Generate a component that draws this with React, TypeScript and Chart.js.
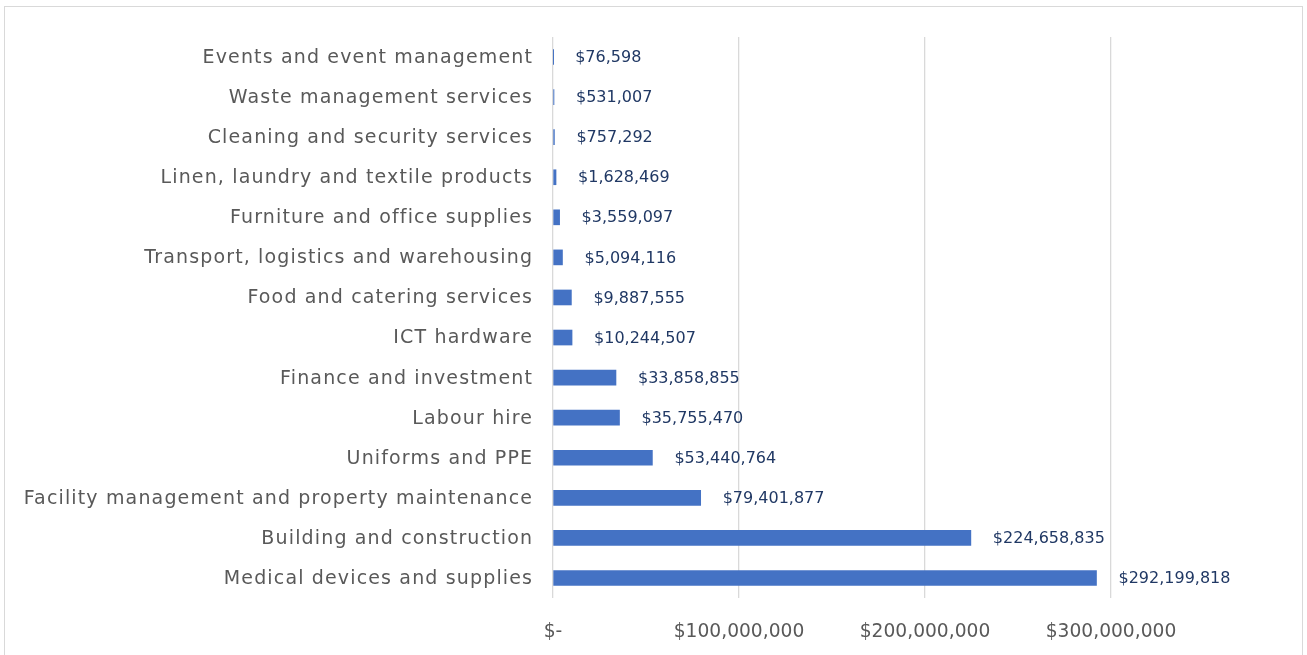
import React, { useEffect, useRef } from "react";
import { Chart, registerables } from "chart.js";
Chart.register(...registerables);

const categories = [
  "Events and event management",
  "Waste management services",
  "Cleaning and security services",
  "Linen, laundry and textile products",
  "Furniture and office supplies",
  "Transport, logistics and warehousing",
  "Food and catering services",
  "ICT hardware",
  "Finance and investment",
  "Labour hire",
  "Uniforms and PPE",
  "Facility management and property maintenance",
  "Building and construction",
  "Medical devices and supplies",
];
const values = [
  76598, 531007, 757292, 1628469, 3559097, 5094116, 9887555, 10244507,
  33858855, 35755470, 53440764, 79401877, 224658835, 292199818,
];
const xTicks = [0, 100000000, 200000000, 300000000];
const xTickLabels = ["$-", "$100,000,000", "$200,000,000", "$300,000,000"];

const FONT = "'DejaVu Sans', sans-serif";

const fmt = (v: number) => "$" + v.toLocaleString("en-US");

const dataLabelPlugin = {
  id: "dataLabels",
  afterDatasetsDraw(chart: any) {
    const ctx = chart.ctx;
    const meta = chart.getDatasetMeta(0);
    ctx.save();
    ctx.font = `16px ${FONT}`;
    ctx.fillStyle = "#203864";
    ctx.textAlign = "left";
    ctx.textBaseline = "middle";
    meta.data.forEach((bar: any, i: number) => {
      ctx.fillText(fmt(values[i]), bar.x + 22, bar.y + 1);
    });
    ctx.restore();
  },
};

const yLabelPlugin = {
  id: "yLabels",
  afterDraw(chart: any) {
    const ctx = chart.ctx;
    const yScale = chart.scales.y;
    ctx.save();
    ctx.font = `19px ${FONT}`;
    ctx.fillStyle = "#595959";
    ctx.textAlign = "right";
    ctx.textBaseline = "middle";
    (ctx as any).letterSpacing = "1.15px";
    categories.forEach((label, i) => {
      const y = yScale.getPixelForTick(i);
      ctx.fillText(label, yScale.right - 21 + 1.15, y + 1);
    });
    (ctx as any).letterSpacing = "0px";
    ctx.restore();
  },
};

export default function App() {
  const ref = useRef<HTMLCanvasElement>(null);
  useEffect(() => {
    if (!ref.current) return;
    const chart = new Chart(ref.current, {
      type: "bar",
      data: {
        labels: categories,
        datasets: [
          {
            data: values,
            backgroundColor: "#4472C4",
            barThickness: 15,
          },
        ],
      },
      options: {
        indexAxis: "y",
        animation: false,
        responsive: false,
        maintainAspectRatio: false,
        layout: { padding: { top: 37, right: 196, left: 0, bottom: 0 } },
        plugins: {
          legend: { display: false },
          tooltip: { enabled: false },
        },
        scales: {
          x: {
            min: 0,
            max: 300000000,
            afterBuildTicks: (scale: any) => {
              scale.ticks = xTicks.map((v) => ({ value: v }));
            },
            afterFit: (scale: any) => {
              scale.height = 57;
            },
            ticks: {
              color: "#595959",
              font: { family: FONT, size: 18.67 },
              padding: 23,
              maxRotation: 0,
              callback: (v: any) => {
                const i = xTicks.indexOf(Number(v));
                return i >= 0 ? xTickLabels[i] : "";
              },
            },
            grid: { color: "#d9d9d9", drawTicks: false, lineWidth: 1.3 },
            border: { display: false },
          },
          y: {
            afterFit: (scale: any) => {
              scale.width = 553;
            },
            ticks: {
              display: false,
            },
            grid: { display: false, drawTicks: false },
            border: { display: false },
          },
        },
      },
      plugins: [dataLabelPlugin, yLabelPlugin],
    });
    return () => chart.destroy();
  }, []);

  return (
    <div
      style={{
        position: "fixed",
        left: 0,
        top: 0,
        width: 1307,
        height: 655,
        background: "#fff",
        overflow: "hidden",
      }}
    >
      <div
        style={{
          position: "absolute",
          left: 4,
          top: 6,
          width: 1299,
          height: 700,
          border: "1px solid #d9d9d9",
          boxSizing: "border-box",
        }}
      />
      <canvas
        ref={ref}
        width={1307}
        height={655}
        style={{ position: "absolute", left: 0, top: 0, width: 1307, height: 655 }}
      />
    </div>
  );
}
